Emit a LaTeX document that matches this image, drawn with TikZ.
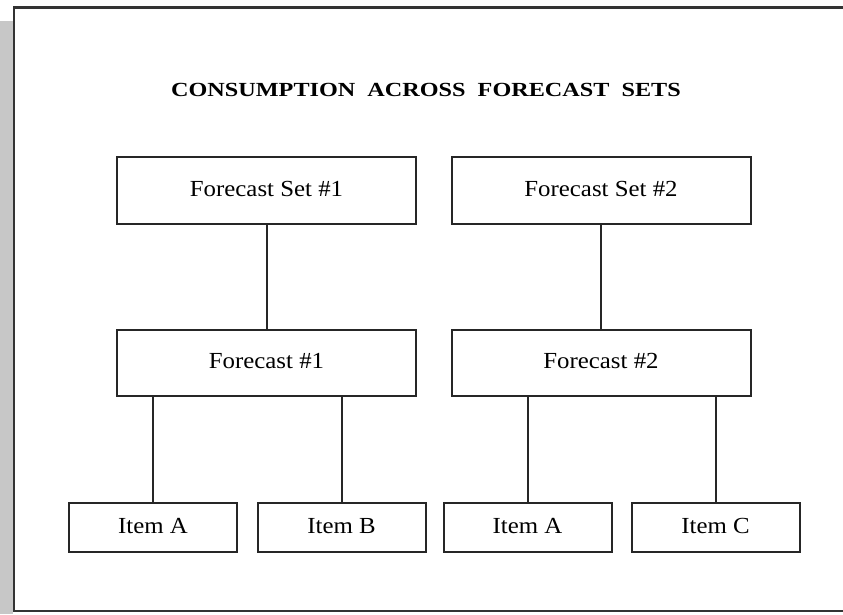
\documentclass[tikz,border=0pt]{standalone}
\usepackage{fontspec}
\setmainfont{Liberation Serif}
\begin{document}
\begin{tikzpicture}[x=1pt,y=-1pt,
  box/.style={draw=black!85,line width=2pt,rectangle,inner sep=0pt,
    text height=15pt,text depth=4pt,
    font=\fontsize{23}{27}\selectfont},
  setbox/.style={box,minimum width=299pt,minimum height=67pt},
  fcbox/.style={box,minimum width=299pt,minimum height=66pt},
  itembox/.style={box,minimum width=168pt,minimum height=49pt},
  link/.style={draw=black!85,line width=2pt}]
\newcommand{\wide}[1]{\scalebox{1.08}[1]{#1}}
\useasboundingbox (0,0) rectangle (843,614);
% drop shadow strip and page frame
\fill[black!22] (0,21) rectangle (13,614);
\draw[black!80,line width=2.6pt] (843,7.5) -- (14,7.5) -- (14,611) -- (843,611);
% heading
\node (title) at (426,90) {\scalebox{1.21}[1]{\fontsize{20}{24}\selectfont\bfseries CONSUMPTION\ \ ACROSS\ \ FORECAST\ \ SETS}};
% forecast sets
\node[setbox] (fs1) at (266.5,190.5) {\wide{Forecast Set \#1}};
\node[setbox] (fs2) at (601,190.5) {\wide{Forecast Set \#2}};
% forecasts
\node[fcbox] (f1) at (266.5,363) {\wide{Forecast \#1}};
\node[fcbox] (f2) at (601,363) {\wide{Forecast \#2}};
% items
\node[itembox] (ia1) at (153,527.5) {\wide{Item A}};
\node[itembox] (ib) at (341.5,527.5) {\wide{Item B}};
\node[itembox] (ia2) at (527.5,527.5) {\wide{Item A}};
\node[itembox] (ic) at (715.5,527.5) {\wide{Item C}};
% connectors
\draw[link] (fs1.south) -- (f1.north);
\draw[link] (fs2.south) -- (f2.north);
\draw[link] (ia1.north) -- (ia1.north |- f1.south);
\draw[link] (ib.north) -- (ib.north |- f1.south);
\draw[link] (ia2.north) -- (ia2.north |- f2.south);
\draw[link] (ic.north) -- (ic.north |- f2.south);
\end{tikzpicture}
\end{document}
